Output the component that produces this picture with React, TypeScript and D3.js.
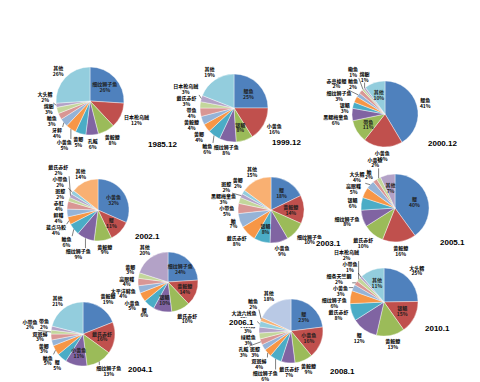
import React from 'react';
import * as d3 from 'd3';

// ---------- data ----------
const names1985 = ['细纹狮子鱼', '日本枪乌贼', '黄鮟鱇', '孔鳐', '黄鲫', '小黄鱼', '牙鲆', '鲐鱼', '绵鳚', '大头鳕', '其他'];
const values1985 = [26, 12, 8, 6, 5, 5, 4, 3, 3, 2, 26];

const names1999 = ['鳀鱼', '小黄鱼', '银鲳', '细纹狮子鱼', '鲐鱼', '黄鲫', '黄鮟鱇', '带鱼', '戴氏赤虾', '日本枪乌贼', '其他'];
const values1999 = [25, 16, 8, 8, 6, 4, 4, 4, 3, 3, 19];

const names2000 = ['鳀鱼', '小黄鱼', '带鱼', '黑鳃梅童鱼', '银鲳', '细纹狮子鱼', '赤鼻棱鳀', '鲐鱼', '鳓鱼', '绵鳚', '其他'];
const values2000 = [41, 19, 11, 6, 3, 3, 2, 2, 1, 1, 10];

const names2002 = ['小黄鱼', '鳀', '黄鮟鱇', '细纹狮子鱼', '鲐鱼', '蓝点马鲛', '鲆鲽', '赤魟', '斑鰶', '戴氏赤虾', '小带鱼', '其他'];
const values2002 = [31, 11, 9, 9, 6, 4, 4, 4, 2, 2, 2, 14];

const names2003 = ['鳀', '黄鮟鱇', '细纹狮子鱼', '小黄鱼', '银鲳', '戴氏赤虾', '鲐', '小带鱼', '黑鳃梅童鱼', '斑鰶', '黄鲫', '其他'];
const values2003 = [18, 14, 10, 9, 8, 8, 7, 5, 3, 2, 2, 15];

const names2005 = ['鳀', '黄鮟鱇', '戴氏赤虾', '细纹狮子鱼', '银鲳', '高眼鲽', '大头鳕', '鲐', '小黄鱼', '其他'];
const values2005 = [40, 16, 10, 8, 6, 5, 4, 2, 2, 7];

const names2004 = ['黄鮟鱇', '戴氏赤虾', '细纹狮子鱼', '小黄鱼', '鳀', '鲐鱼', '黄鲫', '双斑蟳', '小带鱼', '带鱼', '其他'];
const values2004 = [19, 16, 13, 11, 5, 5, 3, 3, 2, 2, 21];

const names2006 = ['细纹狮子鱼', '黄鮟鱇', '戴氏赤虾', '银鲳', '鳀', '小黄鱼', '太平洋鲱鱼', '高眼鲽', '黄鲫', '其他'];
const values2006 = [24, 14, 10, 10, 6, 5, 4, 4, 3, 20];

const names2008 = ['鳀', '小黄鱼', '黄鮟鱇', '戴氏赤虾', '细纹狮子鱼', '双斑蟳', '斑鰶', '孔鳐', '绿鳍鱼', '大头鳕', '大泷六线鱼', '鲐鱼', '其他'];
const values2008 = [23, 16, 9, 7, 6, 4, 3, 3, 3, 3, 3, 2, 18];

const names2010 = ['大头鳕', '银鲳', '黄鮟鱇', '鳀', '戴氏赤虾', '细纹狮子鱼', '小黄鱼', '细条天竺鲷', '日本枪乌贼', '小带鱼', '其他'];
const values2010 = [24, 15, 13, 12, 8, 6, 3, 2, 2, 1, 11];

const yearLabels = ['1985.12', '1999.12', '2000.12', '2002.1', '2003.1', '2005.1', '2004.1', '2006.1', '2008.1', '2010.1'];

const seriesNames = [names1985, names1999, names2000, names2002, names2003, names2005, names2004, names2006, names2008, names2010];
const seriesValues = [values1985, values1999, values2000, values2002, values2003, values2005, values2004, values2006, values2008, values2010];

// ---------- layout (positions / styles) ----------
const layout = [
  { cx: 90, cy: 101, r: 34, yx: 148, yy: 147, inside: [0] },
  { cx: 234, cy: 108, r: 34, yx: 272, yy: 145, inside: [0, 2] },
  { cx: 385, cy: 114, r: 33, yx: 428, yy: 146, inside: [2, 10] },
  { cx: 98, cy: 210, r: 31, yx: 135, yy: 239, inside: [0, 1] },
  { cx: 271, cy: 210, r: 33, yx: 316, yy: 246, inside: [0, 1, 4] },
  { cx: 395, cy: 208, r: 34, yx: 440, yy: 245, inside: [0, 9] },
  { cx: 83, cy: 334, r: 32, yx: 128, yy: 372, inside: [1, 3] },
  { cx: 168, cy: 282, r: 30, yx: 229, yy: 325, inside: [0, 1, 3] },
  { cx: 291, cy: 331, r: 32, yx: 330, yy: 374, inside: [0, 1] },
  { cx: 384, cy: 302, r: 34, yx: 425, yy: 331, inside: [1, 10] },
];

const palette = ['#4F81BD', '#C0504D', '#9BBB59', '#8064A2', '#4BACC6', '#F79646',
  '#95B3D7', '#D99694', '#C3D69B', '#B3A2C7', '#93CDDD', '#F9B072', '#B9C9E5'];

const FS = 5; // label font size
const LH = 6;
const labelFont = '"Noto Sans CJK SC", "Noto Sans", sans-serif';
const W = 480, H = 382;

type Lab = { x: number; y: number; w: number; h: number; px: number; py: number; name: string; pct: string; inside: boolean };

function buildLabels(names: string[], values: number[], L: typeof layout[0]) {
  const pie = d3.pie<number>().sort(null).value((d) => d);
  const arcs = pie(values);
  const total = d3.sum(values);
  const labs: Lab[] = arcs.map((a, i) => {
    const m = (a.startAngle + a.endAngle) / 2;
    const sx = Math.sin(m), sy = -Math.cos(m);
    const name = names[i];
    const pct = `${Math.round((values[i] / total) * 100)}%`;
    const w = Math.max(name.length * FS, pct.length * FS * 0.6) + 1.5;
    const h = LH * 2;
    const inside = L.inside.includes(i);
    const px = L.cx + sx * L.r, py = L.cy + sy * L.r;
    if (inside) {
      return { x: L.cx + sx * L.r * 0.6, y: L.cy + sy * L.r * 0.6, w, h, px, py, name, pct, inside };
    }
    const ad = L.r + 3;
    return { x: L.cx + sx * ad + sx * w / 2, y: L.cy + sy * ad + sy * h / 2, w, h, px, py, name, pct, inside };
  });
  const outs = labs.filter((l) => !l.inside);
  for (let it = 0; it < 150; it++) {
    for (let i = 0; i < outs.length; i++) {
      for (let j = i + 1; j < outs.length; j++) {
        const a = outs[i], b = outs[j];
        const ox = (a.w + b.w) / 2 - Math.abs(a.x - b.x);
        const oy = (a.h + b.h) / 2 - Math.abs(a.y - b.y);
        if (ox > 0 && oy > 0) {
          if (oy <= ox) {
            const s = a.y < b.y ? -1 : 1;
            a.y += (s * oy) / 2; b.y -= (s * oy) / 2;
          } else {
            const s = a.x < b.x ? -1 : 1;
            a.x += (s * ox) / 2; b.x -= (s * ox) / 2;
          }
        }
      }
    }
    for (const l of outs) {
      const nx = Math.max(l.x - l.w / 2, Math.min(L.cx, l.x + l.w / 2));
      const ny = Math.max(l.y - l.h / 2, Math.min(L.cy, l.y + l.h / 2));
      const d = Math.hypot(nx - L.cx, ny - L.cy);
      if (d < L.r + 1.5) {
        const vx = l.x - L.cx, vy = l.y - L.cy;
        const vl = Math.hypot(vx, vy) || 1;
        const push = L.r + 1.5 - d;
        l.x += (vx / vl) * push; l.y += (vy / vl) * push;
      }
      l.y = Math.min(l.y, H - l.h / 2 - 0.5);
      l.x = Math.max(l.w / 2 + 1, Math.min(W - l.w / 2 - 1, l.x));
    }
  }
  return { arcs, labs };
}

function PieChart({ idx }: { idx: number }) {
  const L = layout[idx];
  const names = seriesNames[idx];
  const values = seriesValues[idx];
  const { arcs, labs } = buildLabels(names, values, L);
  const arc = d3.arc<d3.PieArcDatum<number>>().innerRadius(0).outerRadius(L.r);
  return (
    <g>
      <g transform={`translate(${L.cx},${L.cy})`}>
        {arcs.map((a, i) => (
          <path key={i} d={arc(a) || ''} fill={palette[i % palette.length]} stroke="#fff" strokeWidth={0.4} />
        ))}
      </g>
      {labs.map((l, i) => {
        if (l.inside) return null;
        const nx = Math.max(l.x - l.w / 2, Math.min(l.px, l.x + l.w / 2));
        const ny = Math.max(l.y - l.h / 2, Math.min(l.py, l.y + l.h / 2));
        const d = Math.hypot(nx - l.px, ny - l.py);
        if (d < 3.5) return null;
        return <line key={'l' + i} x1={l.px} y1={l.py} x2={nx} y2={ny} stroke="#000" strokeWidth={0.5} />;
      })}
      {labs.map((l, i) => (
        <text key={'t' + i} x={l.x} textAnchor="middle" fontFamily={labelFont} fontSize={FS} fontWeight={700}
          fill={l.inside ? '#1e1e1e' : '#000'}>
          <tspan x={l.x} y={l.y - 0.8}>{l.name}</tspan>
          <tspan x={l.x} y={l.y + 5}>{l.pct}</tspan>
        </text>
      ))}
    </g>
  );
}

export default function App() {
  return (
    <svg width={W} height={H} viewBox={`0 0 ${W} ${H}`}
      style={{ position: 'absolute', left: 0, top: 0, background: '#fff' }}>
      <rect x={0} y={0} width={W} height={H} fill="#fff" />
      {layout.map((_, i) => <PieChart key={i} idx={i} />)}
      {layout.map((L, i) => {
        const w = yearLabels[i].length * 4.4 + 2;
        return (
          <g key={'y' + i}>
            <rect x={L.yx - 1} y={L.yy - 7} width={w} height={9} fill="#fff" />
            <text x={L.yx} y={L.yy} fontFamily='"Liberation Sans", Arial, sans-serif' fontSize={8} fontWeight={700} fill="#000">
              {yearLabels[i]}
            </text>
          </g>
        );
      })}
    </svg>
  );
}
